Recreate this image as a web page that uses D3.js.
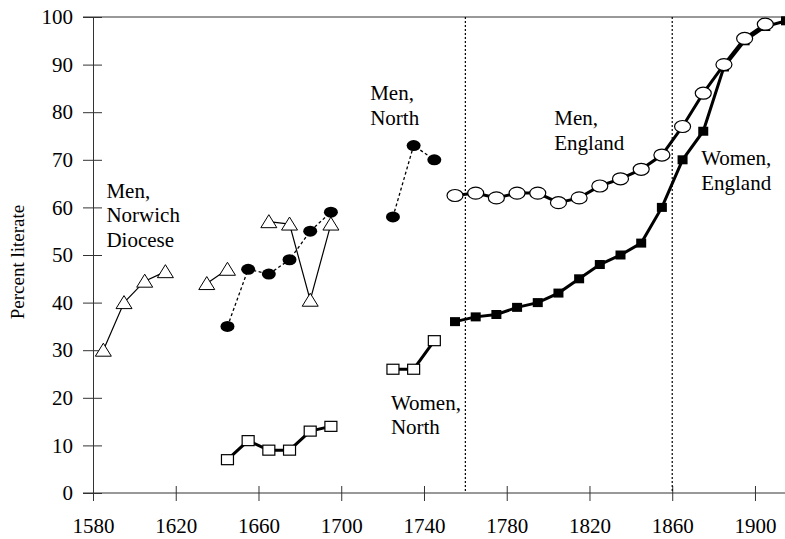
<!DOCTYPE html>
<html>
<head>
<meta charset="utf-8">
<script src="https://cdn.jsdelivr.net/npm/d3@7"></script>
<style>
	body { margin: 0; background: #fff; }
</style>
</head>
<body>
<div id="chart"></div>
<script>
//////////////////////////// data /////////////////////////////////////////

const norwichYears = [1585, 1595, 1605, 1615, 1625, 1635, 1645, 1655, 1665, 1675, 1685, 1695];
const norwichMen = [30, 40, 44.5, 46.5, null, 44, 47, null, 57, 56.5, 40.5, 56.5];

const northYears = [1645, 1655, 1665, 1675, 1685, 1695, 1705, 1715, 1725, 1735, 1745];
const northMen = [35, 47, 46, 49, 55, 59, null, null, 58, 73, 70];
const northWomen = [7, 11, 9, 9, 13, 14, null, null, 26, 26, 32];

const englandYears = [1755, 1765, 1775, 1785, 1795, 1805, 1815, 1825, 1835, 1845, 1855, 1865, 1875, 1885, 1895, 1905, 1915];
const englandMen = [62.5, 63, 62, 63, 63, 61, 62, 64.5, 66, 68, 71, 77, 84, 90, 95.5, 98.5];
const englandWomen = [36, 37, 37.5, 39, 40, 42, 45, 48, 50, 52.5, 60, 70, 76, 89.5, 95, 98, 99.2];

const xTicks = [1580, 1620, 1660, 1700, 1740, 1780, 1820, 1860, 1900];
const yTicks = [0, 10, 20, 30, 40, 50, 60, 70, 80, 90, 100];
const markerYears = [1760, 1860];

const labels = [
	{ lines: ["Men,", "Norwich", "Diocese"], year: 1586.5, value: 62 },
	{ lines: ["Men,", "North"], year: 1714, value: 82.5 },
	{ lines: ["Men,", "England"], year: 1803, value: 77.3 },
	{ lines: ["Women,", "England"], year: 1874, value: 68.9 },
	{ lines: ["Women,", "North"], year: 1724, value: 17.5 }
];

const serif = '"Liberation Serif", Tinos, "Times New Roman", Times, serif';

//////////////////////////// drawing function /////////////////////////////

const createChart = () => {
	let dimensions = {
		width: 785,
		height: 539,
		margin: { top: 17, right: -1, bottom: 46, left: 93 }
	};
	dimensions.boundedWidth = dimensions.width - dimensions.margin.left - dimensions.margin.right;
	dimensions.boundedHeight = dimensions.height - dimensions.margin.top - dimensions.margin.bottom;

	const svg = d3.select("#chart").append("svg")
		.attr("width", dimensions.width)
		.attr("height", dimensions.height)
		.attr("font-family", serif);

	const bounds = svg.append("g")
		.attr("transform", `translate(${dimensions.margin.left},${dimensions.margin.top})`);

	//////////////////////////// scales ///////////////////////////////////////

	const xScale = d3.scaleLinear().domain([1580, 1915]).range([0, dimensions.boundedWidth]);
	const yScale = d3.scaleLinear().domain([0, 100]).range([dimensions.boundedHeight, 0]);

	//////////////////////////// axes /////////////////////////////////////////

	const yAxis = bounds.append("g")
		.call(d3.axisLeft(yScale).tickValues(yTicks).tickSize(10).tickPadding(10));
	yAxis.attr("font-family", serif).attr("font-size", 21);
	yAxis.select(".domain").attr("stroke", "#333");
	yAxis.selectAll(".tick line").attr("x1", 9).attr("stroke", "#333");
	yAxis.selectAll("text").attr("fill", "#000");

	const xAxis = bounds.append("g")
		.attr("transform", `translate(0,${dimensions.boundedHeight})`)
		.call(d3.axisBottom(xScale).tickValues(xTicks).tickSize(8).tickPadding(17).tickFormat(d3.format("d")));
	xAxis.attr("font-family", serif).attr("font-size", 21);
	xAxis.select(".domain").attr("stroke", "#333").attr("d", `M-10,0H${dimensions.boundedWidth + 5}`);
	xAxis.selectAll(".tick line").attr("y1", -7).attr("stroke", "#333");
	xAxis.selectAll("text").attr("fill", "#000");

	// top frame line
	bounds.append("line")
		.attr("x1", -10).attr("x2", dimensions.boundedWidth + 5)
		.attr("y1", yScale(100)).attr("y2", yScale(100))
		.attr("stroke", "#333");

	// dotted period markers
	bounds.selectAll(".marker")
		.data(markerYears)
		.enter()
		.append("line")
		.attr("class", "marker")
		.attr("x1", (d) => xScale(d)).attr("x2", (d) => xScale(d))
		.attr("y1", yScale(100)).attr("y2", yScale(0))
		.attr("stroke", "#000")
		.attr("stroke-width", 1.2)
		.attr("stroke-dasharray", "2,2");

	// y label
	svg.append("text")
		.attr("transform", "translate(24,262) rotate(-90)")
		.attr("text-anchor", "middle")
		.attr("font-size", 19)
		.text("Percent literate");

	//////////////////////////// plot /////////////////////////////////////////

	const toPoints = (years, values) =>
		years.map((year, i) => ({ year, value: values[i] === undefined ? null : values[i] }));

	const line = d3.line()
		.defined((d) => d.value !== null)
		.x((d) => xScale(d.year))
		.y((d) => yScale(d.value));

	const drawSeries = (points, opts) => {
		bounds.append("path")
			.datum(points)
			.attr("d", line)
			.attr("fill", "none")
			.attr("stroke", "#000")
			.attr("stroke-width", opts.width)
			.attr("stroke-dasharray", opts.dash || null);

		const g = bounds.selectAll(null)
			.data(points.filter((d) => d.value !== null))
			.enter()
			.append("g")
			.attr("transform", (d) => `translate(${xScale(d.year)},${yScale(d.value)})`);
		opts.marker(g);
	};

	const triangle = (g) => g.append("path")
		.attr("d", "M0,-7L8,6L-8,6Z")
		.attr("fill", "#fff").attr("stroke", "#000").attr("stroke-width", 1);
	const dot = (g) => g.append("ellipse")
		.attr("rx", 7).attr("ry", 5.5).attr("fill", "#000");
	const openSquare = (g) => g.append("rect")
		.attr("x", -6).attr("y", -5).attr("width", 12).attr("height", 10)
		.attr("fill", "#fff").attr("stroke", "#000").attr("stroke-width", 1.2);
	const openEllipse = (g) => g.append("ellipse")
		.attr("rx", 8).attr("ry", 6)
		.attr("fill", "#fff").attr("stroke", "#000").attr("stroke-width", 1.2);
	const blackSquare = (g) => g.append("rect")
		.attr("x", -5).attr("y", -4.5).attr("width", 10).attr("height", 9)
		.attr("fill", "#000");

	drawSeries(toPoints(norwichYears, norwichMen), { width: 1.2, marker: triangle });
	drawSeries(toPoints(northYears, northMen), { width: 1.3, dash: "3,2.5", marker: dot });
	drawSeries(toPoints(northYears, northWomen), { width: 3, marker: openSquare });
	drawSeries(toPoints(englandYears, englandWomen), { width: 3, marker: blackSquare });
	drawSeries(toPoints(englandYears.slice(0, englandMen.length), englandMen), { width: 3, marker: openEllipse });

	//////////////////////////// labels ///////////////////////////////////////

	labels.forEach((l) => {
		const t = bounds.append("text")
			.attr("x", xScale(l.year))
			.attr("y", yScale(l.value))
			.attr("font-size", 21);
		t.selectAll("tspan")
			.data(l.lines)
			.enter()
			.append("tspan")
			.attr("x", xScale(l.year))
			.attr("dy", (d, i) => (i === 0 ? 0 : 24.5))
			.text((d) => d);
	});
};

createChart();
</script>
</body>
</html>
